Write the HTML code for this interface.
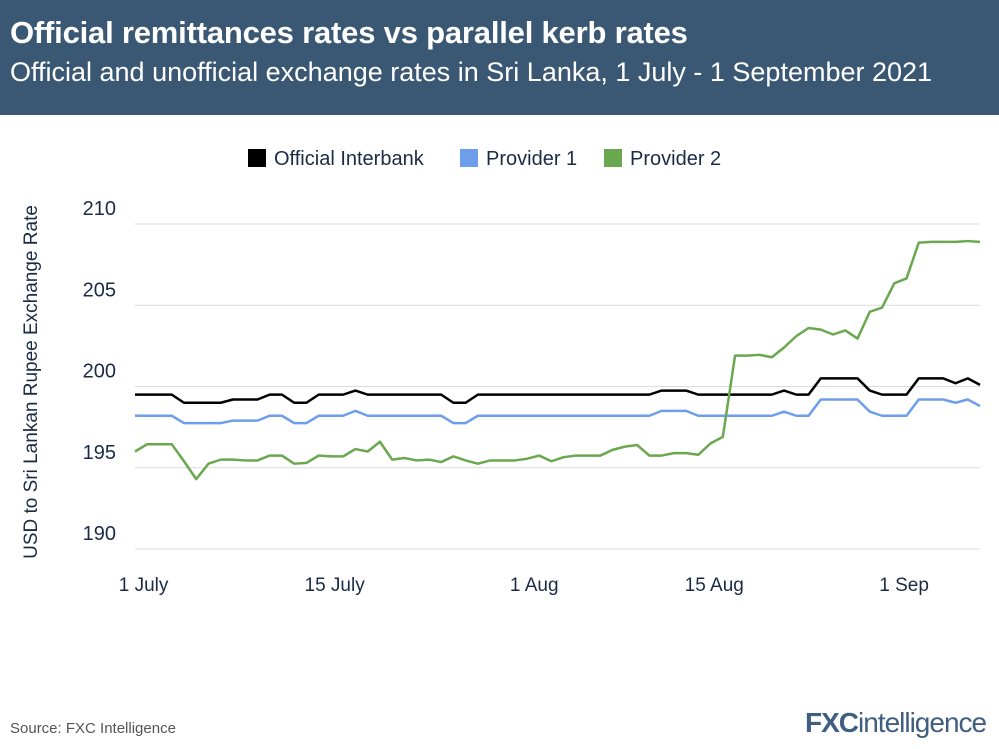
<!DOCTYPE html>
<html><head><meta charset="utf-8"><style>
body{margin:0;width:999px;height:749px;background:#fff;font-family:"Liberation Sans",sans-serif;overflow:hidden;position:relative}
#hdr{position:absolute;left:0;top:0;width:999px;height:115px;background:#3a5873}
#t1{position:absolute;left:10px;top:15px;color:#fff;font-size:31px;font-weight:bold;letter-spacing:-0.2px}
#t2{position:absolute;left:10px;top:57px;color:#fff;font-size:27px}
#src{position:absolute;left:10px;top:720px;font-size:15px;color:#555}
#logo{position:absolute;left:805px;top:707px;font-size:28px;font-weight:bold;color:#3f5e80;letter-spacing:-1px}
</style></head><body>
<div id="hdr">
<div id="t1">Official remittances rates vs parallel kerb rates</div>
<div id="t2">Official and unofficial exchange rates in Sri Lanka, 1 July - 1 September 2021</div>
</div>
<svg id="chart" width="999" height="749" style="position:absolute;left:0;top:0"></svg>
<div id="src">Source: FXC Intelligence</div>
<div id="logo">FXC<span style="font-weight:normal">intelligence</span></div>
<script>
const yTicks=[190,195,200,205,210];
const xTickLabels=["1 July","15 July","1 Aug","15 Aug","1 Sep"];
const xTickIdx=[0.7,16.3,32.6,47.3,62.8];
const seriesNames=["Official Interbank","Provider 1","Provider 2"];
const seriesColors=["#000000","#6d9eeb","#6aa84f"];
const official=[199.5,199.5,199.5,199.5,199,199,199,199,199.2,199.2,199.2,199.5,199.5,199,199,199.5,199.5,199.5,199.75,199.5,199.5,199.5,199.5,199.5,199.5,199.5,199,199,199.5,199.5,199.5,199.5,199.5,199.5,199.5,199.5,199.5,199.5,199.5,199.5,199.5,199.5,199.5,199.75,199.75,199.75,199.5,199.5,199.5,199.5,199.5,199.5,199.5,199.75,199.5,199.5,200.5,200.5,200.5,200.5,199.75,199.5,199.5,199.5,200.5,200.5,200.5,200.2,200.5,200.1];
const provider1=[198.2,198.2,198.2,198.2,197.75,197.75,197.75,197.75,197.9,197.9,197.9,198.2,198.2,197.75,197.75,198.2,198.2,198.2,198.5,198.2,198.2,198.2,198.2,198.2,198.2,198.2,197.75,197.75,198.2,198.2,198.2,198.2,198.2,198.2,198.2,198.2,198.2,198.2,198.2,198.2,198.2,198.2,198.2,198.5,198.5,198.5,198.2,198.2,198.2,198.2,198.2,198.2,198.2,198.45,198.2,198.2,199.2,199.2,199.2,199.2,198.45,198.2,198.2,198.2,199.2,199.2,199.2,199.0,199.2,198.8];
const provider2=[196.0,196.45,196.45,196.45,195.4,194.3,195.25,195.5,195.5,195.45,195.45,195.75,195.75,195.25,195.3,195.75,195.7,195.7,196.15,196.0,196.6,195.5,195.6,195.45,195.5,195.35,195.7,195.45,195.25,195.45,195.45,195.45,195.55,195.75,195.4,195.65,195.75,195.75,195.75,196.1,196.3,196.4,195.75,195.75,195.9,195.9,195.8,196.5,196.9,201.9,201.9,201.95,201.8,202.4,203.1,203.6,203.5,203.2,203.45,202.95,204.6,204.85,206.35,206.65,208.85,208.9,208.9,208.9,208.95,208.9];
const N=official.length;
const x=i=>135+i*(980-135)/(N-1);
const y=v=>549-(v-190)*(549-224)/20;
const svg=document.getElementById('chart');
const NS='http://www.w3.org/2000/svg';
function mk(t,a){const e=document.createElementNS(NS,t);for(const k in a)e.setAttribute(k,a[k]);svg.appendChild(e);return e;}
yTicks.forEach(v=>{
 const g=mk('line',{x1:135,x2:980,y1:y(v),y2:y(v),stroke:'#dcdcdc','stroke-width':1});
 
 
 const t=mk('text',{x:116,y:y(v)-9,'text-anchor':'end','font-size':20,fill:'#1c2b45'});
 t.textContent=v;
 
 
});
xTickLabels.forEach((l,i)=>{
 const t=mk('text',{x:x(xTickIdx[i]),y:591,'text-anchor':'middle','font-size':19,fill:'#1c2b45'});
 t.textContent=l;
 
 
});
const yt=mk('text',{x:0,y:0,'text-anchor':'middle','font-size':19,fill:'#1c2b45',transform:'translate(37,382) rotate(-90)'});
yt.textContent='USD to Sri Lankan Rupee Exchange Rate';


[official,provider1,provider2].forEach((s,k)=>{
 const p=mk('polyline',{points:s.map((v,i)=>x(i)+','+y(v)).join(' '),fill:'none',stroke:seriesColors[k],'stroke-width':2.5,'stroke-linejoin':'round'});
 
 
});
const lx=[248,460,604];
seriesNames.forEach((n,k)=>{
 const r=mk('rect',{x:lx[k],y:149,width:18,height:18,fill:seriesColors[k]});
 
 
 const t=mk('text',{x:lx[k]+26,y:165,'font-size':20,fill:'#1c2b45'});
 t.textContent=n;
 
 
});
</script>
</body></html>
